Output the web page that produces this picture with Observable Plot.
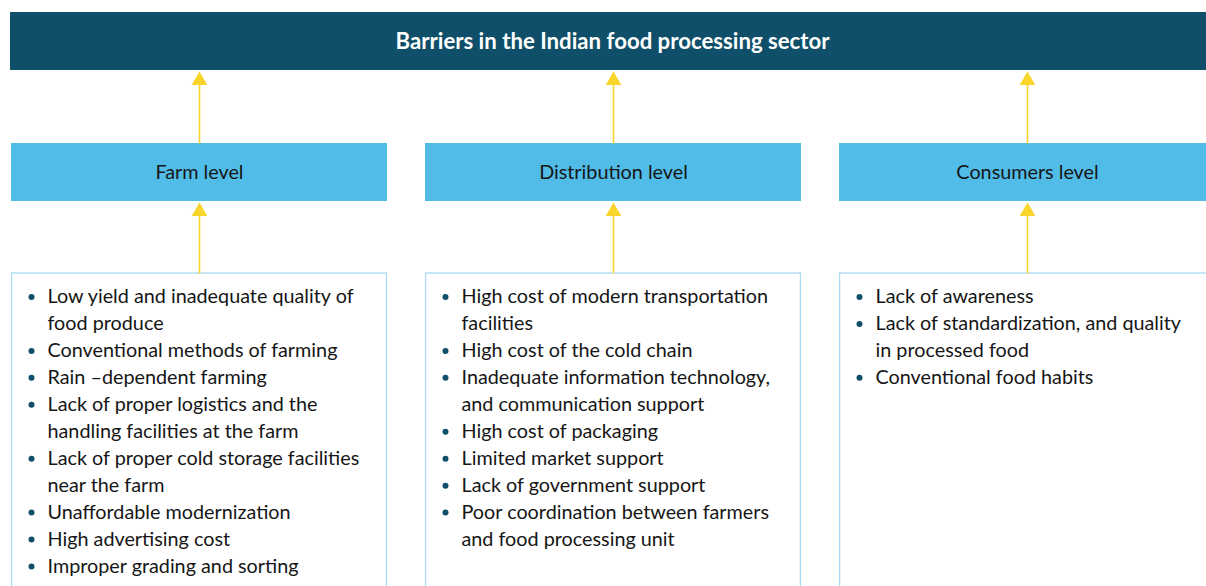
<!DOCTYPE html>
<html>
<head>
<meta charset="utf-8">
<script src="https://cdn.jsdelivr.net/npm/d3@7"></script>
<script src="https://cdn.jsdelivr.net/npm/@observablehq/plot@0.6"></script>
<style>
  html, body { margin: 0; padding: 0; background: #ffffff; }
  #chart svg { display: block; }
</style>
</head>
<body>
<div id="chart"></div>
<script>
// ---- Data ----
const title = "Barriers in the Indian food processing sector";
const levels = ["Farm level", "Distribution level", "Consumers level"];
const farmBarriers = [
  "Low yield and inadequate quality of\nfood produce",
  "Conventional methods of farming",
  "Rain \u2013dependent farming",
  "Lack of proper logistics and the\nhandling facilities at the farm",
  "Lack of proper cold storage facilities\nnear the farm",
  "Unaffordable modernization",
  "High advertising cost",
  "Improper grading and sorting"
];
const distributionBarriers = [
  "High cost of modern transportation\nfacilities",
  "High cost of the cold chain",
  "Inadequate information technology,\nand communication support",
  "High cost of packaging",
  "Limited market support",
  "Lack of government support",
  "Poor coordination between farmers\nand food processing unit"
];
const consumerBarriers = [
  "Lack of awareness",
  "Lack of standardization, and quality\nin processed food",
  "Conventional food habits"
];
const barriersByLevel = [farmBarriers, distributionBarriers, consumerBarriers];

// ---- Layout & style ----
const W = 1206, H = 586;
const L = {
  titleTop: 12, titleBottom: 70,
  levelTop: 143, levelBottom: 201,
  listTop: 273, listBottom: 640,
  firstRow: 296.5, rowStep: 26.95,
  headGap: 10, textDx: -152, bulletDx: -168
};
const C = {
  dark: "#0f4f69", level: "#52bce9", arrow: "#f9d52c",
  border: "#a8daf1", text: "#161616", bullet: "#0f4f69"
};
const FONT = "Lato, 'Open Sans', sans-serif";

// Flatten list items into lines
const lines = [];
const bullets = [];
barriersByLevel.forEach((items, li) => {
  let row = 0;
  items.forEach(item => {
    const parts = item.split("\n");
    bullets.push({level: levels[li], row});
    parts.forEach(p => { lines.push({level: levels[li], row, text: p}); row++; });
  });
});
const rowY = r => L.firstRow + r * L.rowStep;

// Arrows: from lower box top to upper box bottom
const arrows = [];
levels.forEach(lv => {
  arrows.push({level: lv, from: L.levelTop, to: L.titleBottom});
  arrows.push({level: lv, from: L.listTop, to: L.levelBottom});
});

const chart = Plot.plot({
  width: W, height: H,
  marginTop: 0, marginBottom: 0, marginLeft: 10, marginRight: 0,
  style: {fontFamily: FONT, background: "#ffffff", overflow: "hidden"},
  x: {type: "band", domain: levels, range: [10, 1215], paddingInner: 0.0929, paddingOuter: 0, axis: null},
  y: {type: "identity", axis: null},
  marks: [
    // Title bar
    Plot.barY([title], {y1: () => L.titleTop, y2: () => L.titleBottom, fill: C.dark}),
    Plot.text([title], {text: d => d, y: () => (L.titleTop + L.titleBottom) / 2, frameAnchor: "middle", dx: 4,
      fill: "#ffffff", fontWeight: "bold", fontSize: 22.2}),
    // Level boxes
    Plot.barY(levels, {x: d => d, y1: () => L.levelTop, y2: () => L.levelBottom, fill: C.level}),
    Plot.text(levels, {x: d => d, y: () => (L.levelTop + L.levelBottom) / 2, text: d => d,
      fill: C.text, fontSize: 19.8}),
    // List boxes
    Plot.barY(levels, {x: d => d, y1: () => L.listTop, y2: () => L.listBottom, fill: "#ffffff",
      stroke: C.border, strokeWidth: 1.3, insetLeft: 0.6, insetRight: 0.6}),
    // Arrows
    Plot.link(arrows, {x1: "level", x2: "level", y1: d => d.from, y2: d => d.to + L.headGap,
      stroke: C.arrow, strokeWidth: 1.6}),
    Plot.dot(arrows, {x: "level", y: d => d.to + L.headGap, symbol: "triangle", r: 5.83,
      fill: C.arrow, stroke: null}),
    // Bullets
    Plot.dot(bullets, {x: "level", y: d => rowY(d.row), dx: L.bulletDx, r: 3, fill: C.bullet, stroke: null}),
    // Item lines
    Plot.text(lines, {x: "level", y: d => rowY(d.row), dx: L.textDx, text: "text", textAnchor: "start",
      fill: C.text, fontSize: 19.8})
  ]
});
document.getElementById("chart").appendChild(chart);
</script>
</body>
</html>
